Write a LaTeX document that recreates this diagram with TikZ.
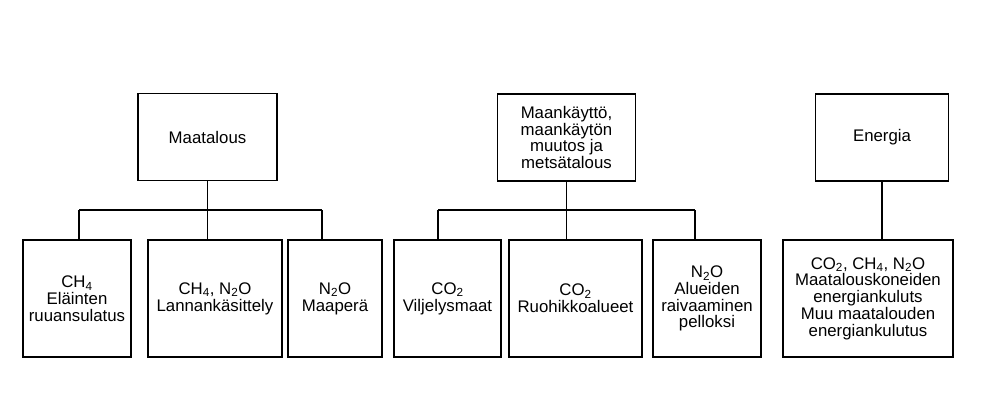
\documentclass[tikz,border=0pt]{standalone}
\usepackage{fontspec}
\setmainfont{Liberation Sans}
\usepackage{tikz}
\usetikzlibrary{positioning,calc}
\newcommand{\gas}[2]{#1\textsubscript{#2}}

\begin{document}
\begin{tikzpicture}[
    x=1pt, y=-1pt,
    font=\fontsize{16.8}{16.8}\selectfont,
    box/.style={rectangle, draw=black, line width=1.3pt, align=center, fill=white, inner sep=2pt},
    topbox/.style={box, minimum height=87pt},
    leafbox/.style={box, minimum height=117pt},
    link/.style={line width=1.3pt}
]
    \useasboundingbox (0,0) rectangle (995,400);

    % Top level
    \node[topbox, minimum width=139pt] (maat) at (207.5,137) {Maatalous};
    \node[topbox, minimum width=138pt] (maank) at (566.5,137.5) {Maankäyttö,\\maankäytön\\muutos ja\\metsätalous};
    \node[topbox, minimum width=133pt] (ener) at (882,137.5) {Energia};

    % Maatalous leaves
    \node[leafbox, minimum width=108pt] (ruuan) at (77,298.5) {\gas{CH}{4}\\Eläinten\\ruuansulatus};
    \node[leafbox, minimum width=134pt] (lanta) at (215,298.5) {\gas{CH}{4}, \gas{N}{2}O\\Lannankäsittely};
    \node[leafbox, minimum width=94pt] (maaper) at (335,298.5) {\gas{N}{2}O\\Maaperä};

    % Maankaytto leaves
    \node[leafbox, minimum width=107pt] (vilj) at (447.5,298.5) {\gas{CO}{2}\\Viljelysmaat};
    \node[leafbox, minimum width=133pt] (ruoho) at (575.5,298.5) {\gas{CO}{2}\\Ruohikkoalueet};
    \node[leafbox, minimum width=108pt] (raiv) at (707,298.5) {\gas{N}{2}O\\Alueiden\\raivaaminen\\pelloksi};

    % Energia leaf
    \node[leafbox, minimum width=170pt] (energ) at (868,298.5) {\gas{CO}{2}, \gas{CH}{4}, \gas{N}{2}O\\Maatalouskoneiden\\energiankuluts\\Muu maatalouden\\energiankulutus};

    % Connectors
    \coordinate (busA) at (79,210);
    \coordinate (busB) at (322,210);
    \coordinate (busC) at (438,210);
    \coordinate (busD) at (695,210);
    \draw[link] (busA) -- (busB);
    \draw[link] (maat.south) -- (maat.south |- busA);
    \draw[link] (busA) -- (busA |- ruuan.north);
    \draw[link] (maat.south |- busA) -- (maat.south |- lanta.north);
    \draw[link] (busB) -- (busB |- maaper.north);

    \draw[link] (busC) -- (busD);
    \draw[link] (maank.south) -- (maank.south |- busC);
    \draw[link] (busC) -- (busC |- vilj.north);
    \draw[link] (maank.south |- busC) -- (maank.south |- ruoho.north);
    \draw[link] (busD) -- (busD |- raiv.north);

    \draw[link] (ener.south) -- (ener.south |- energ.north);
\end{tikzpicture}
\end{document}
